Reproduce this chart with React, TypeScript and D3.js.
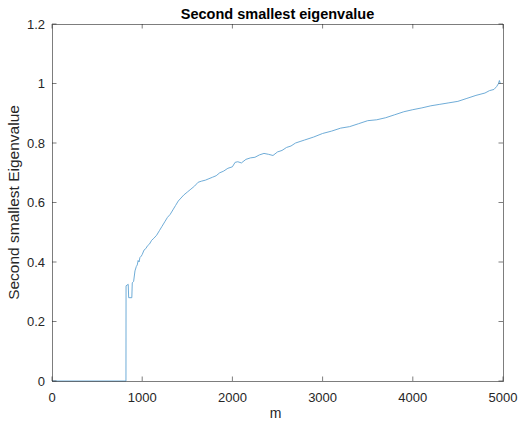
import React, { useEffect, useRef } from 'react';
import * as d3 from 'd3';

// m values and second smallest eigenvalue
const ms = [
  0, 820, 821, 845, 850, 885, 890, 905, 920, 935,
  945, 955, 965, 975, 990, 1000, 1020, 1040, 1060, 1080,
  1105, 1130, 1160, 1190, 1220, 1250, 1280, 1310, 1340, 1370,
  1400, 1430, 1460, 1500, 1540, 1580, 1620, 1660, 1700, 1740,
  1780, 1820, 1860, 1900, 1950, 2000, 2030, 2060, 2100, 2150,
  2200, 2250, 2300, 2350, 2400, 2450, 2500, 2550, 2600, 2650,
  2700, 2750, 2800, 2900, 3000, 3100, 3200, 3300, 3400, 3500,
  3600, 3700, 3800, 3900, 4000, 4100, 4200, 4300, 4400, 4500,
  4600, 4700, 4800, 4850, 4900, 4930, 4950, 4960, 4970,
];
const eig = [
  0, 0, 0.32, 0.325, 0.28, 0.28, 0.33, 0.335, 0.37, 0.385,
  0.39, 0.405, 0.4, 0.415, 0.42, 0.425, 0.44, 0.445, 0.455, 0.46,
  0.473, 0.48, 0.49, 0.505, 0.52, 0.535, 0.55, 0.56, 0.575, 0.59,
  0.605, 0.615, 0.625, 0.635, 0.645, 0.655, 0.668, 0.672, 0.675, 0.68,
  0.685, 0.69, 0.7, 0.705, 0.715, 0.72, 0.735, 0.737, 0.733, 0.745,
  0.75, 0.752, 0.76, 0.765, 0.762, 0.758, 0.77, 0.775, 0.785, 0.79,
  0.8, 0.805, 0.81, 0.82, 0.832, 0.84, 0.85, 0.855, 0.865, 0.875,
  0.878, 0.885, 0.895, 0.905, 0.912, 0.918, 0.925, 0.93, 0.935, 0.94,
  0.95, 0.96, 0.968, 0.976, 0.98, 0.99, 1.0, 1.01, 1.0,
];
const xTicks = [0, 1000, 2000, 3000, 4000, 5000];
const yTicks = [0, 0.2, 0.4, 0.6, 0.8, 1, 1.2];

const App = () => {
  const svgRef = useRef<SVGSVGElement>(null);
  const width = 521;
  const height = 422;
  const left = 52, right = 503, top = 24, bottom = 381;
  const font = 'Liberation Sans, Arial, Helvetica, sans-serif';
  const axisColor = '#262626';

  useEffect(() => {
    const svg = d3.select(svgRef.current);
    svg.selectAll('*').remove();

    const x = d3.scaleLinear().domain([0, 5000]).range([left, right]);
    const y = d3.scaleLinear().domain([0, 1.2]).range([bottom, top]);

    svg.append('rect').attr('width', width).attr('height', height).attr('fill', '#fff');

    // data line
    const pts: [number, number][] = ms.map((m, i) => [m, eig[i]]);
    svg.append('path')
      .datum(pts)
      .attr('d', d3.line<[number, number]>().x(d => x(d[0])).y(d => y(d[1])))
      .attr('fill', 'none')
      .attr('stroke', '#5fa3d3')
      .attr('stroke-width', 0.9);

    // axes box
    svg.append('rect')
      .attr('x', left).attr('y', top)
      .attr('width', right - left).attr('height', bottom - top)
      .attr('fill', 'none').attr('stroke', axisColor).attr('stroke-width', 0.6)
      .attr('shape-rendering', 'crispEdges');

    const tl = 4.5;
    const g = svg.append('g').attr('stroke', axisColor).attr('stroke-width', 0.6);
    xTicks.forEach(t => {
      g.append('line').attr('x1', x(t)).attr('x2', x(t)).attr('y1', bottom).attr('y2', bottom - tl);
      g.append('line').attr('x1', x(t)).attr('x2', x(t)).attr('y1', top).attr('y2', top + tl);
    });
    yTicks.forEach(t => {
      g.append('line').attr('x1', left).attr('x2', left + tl).attr('y1', y(t)).attr('y2', y(t));
      g.append('line').attr('x1', right).attr('x2', right - tl).attr('y1', y(t)).attr('y2', y(t));
    });

    svg.append('g').selectAll('text').data(xTicks).enter().append('text')
      .attr('x', d => x(d)).attr('y', bottom + 21)
      .attr('text-anchor', 'middle')
      .attr('font-family', font).attr('font-size', 13).attr('fill', axisColor)
      .text(d => String(d));

    svg.append('g').selectAll('text').data(yTicks).enter().append('text')
      .attr('x', left - 7).attr('y', d => y(d) + 4.5)
      .attr('text-anchor', 'end')
      .attr('font-family', font).attr('font-size', 13).attr('fill', axisColor)
      .text(d => String(d));

    svg.append('text')
      .attr('x', (left + right) / 2).attr('y', 18.5)
      .attr('text-anchor', 'middle')
      .attr('font-family', font).attr('font-size', 14.5).attr('font-weight', 'bold').attr('fill', '#000')
      .text('Second smallest eigenvalue');

    svg.append('text')
      .attr('x', (left + right) / 2 - 2).attr('y', 418)
      .attr('text-anchor', 'middle')
      .attr('font-family', font).attr('font-size', 14).attr('fill', axisColor)
      .text('m');

    svg.append('text')
      .attr('transform', `translate(19, ${(top + bottom) / 2}) rotate(-90)`)
      .attr('text-anchor', 'middle')
      .attr('font-family', font).attr('font-size', 15.5).attr('fill', axisColor)
      .text('Second smallest Eigenvalue');
  }, []);

  return (
    <svg ref={svgRef} width={width} height={height}
      style={{ position: 'absolute', left: 0, top: 0 }} />
  );
};

export default App;
